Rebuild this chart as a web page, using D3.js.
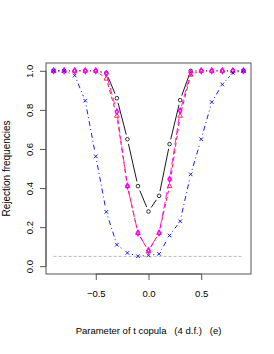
<!DOCTYPE html>
<html>
<head>
<meta charset="utf-8">
<script src="https://cdn.jsdelivr.net/npm/d3@7"></script>
<style>
  body { margin: 0; background: #fff; }
  svg { display: block; font-family: "Liberation Sans", Arial, sans-serif; }
</style>
</head>
<body>
<div id="chart"></div>
<script>
const width = 274;
const height = 354;
const margin = { top: 63, right: 23, bottom: 80, left: 46 };

// parameter values of the t copula
const params = [-0.9, -0.8, -0.7, -0.6, -0.5, -0.4, -0.3, -0.2, -0.1, 0.0,
  0.1, 0.2, 0.3, 0.4, 0.5, 0.6, 0.7, 0.8, 0.9];

const blackVals = [1, 1, 1, 1, 1, 0.99, 0.86, 0.65, 0.41, 0.28,
  0.36, 0.625, 0.85, 1, 1, 1, 1, 1, 1];
const redVals = [1, 1, 1, 1, 1, 0.96, 0.77, 0.41, 0.17, 0.077,
  0.17, 0.41, 0.77, 0.98, 1, 1, 1, 1, 1];
const magentaVals = [1, 1, 1, 1, 1, 0.985, 0.79, 0.41, 0.17, 0.08,
  0.17, 0.445, 0.795, 0.99, 1, 1, 1, 1, 1];
const blueVals = [1, 1, 0.976, 0.847, 0.562, 0.278, 0.11, 0.068, 0.051, 0.056,
  0.063, 0.157, 0.23, 0.47, 0.65, 0.84, 0.93, 0.99, 1];

const level = 0.05;
const xTicks = [-0.5, 0, 0.5];
const yTicks = [0, 0.2, 0.4, 0.6, 0.8, 1.0];

const series = [
  { name: "black", vals: blackVals, color: "#000000", dash: null, shape: "circle" },
  { name: "red", vals: redVals, color: "#ff0000", dash: "4,3", shape: "triangle" },
  { name: "magenta", vals: magentaVals, color: "#ff00ff", dash: "7,3", shape: "diamond" },
  { name: "blue", vals: blueVals, color: "#0000ff", dash: "1,3,5,3", shape: "cross" }
];

const x = d3.scaleLinear()
  .domain([-0.972, 0.972])
  .range([margin.left, width - margin.right]);
const y = d3.scaleLinear()
  .domain([-0.04, 1.04])
  .range([height - margin.bottom, margin.top]);

const svg = d3.select("#chart")
  .append("svg")
  .attr("width", width)
  .attr("height", height);

// reference level
svg.append("line")
  .attr("x1", x(params[0]))
  .attr("x2", x(params[params.length - 1]))
  .attr("y1", y(level))
  .attr("y2", y(level))
  .attr("stroke", "#aaaaaa")
  .attr("stroke-width", 0.8)
  .attr("stroke-dasharray", "3,2");

const gap = 4.8;

// R type="b": segments with gaps around the points
const drawSeries = (s) => {
  const pts = params.map((p, i) => [x(p), y(s.vals[i])]);
  const g = svg.append("g").attr("class", `series-${s.name}`);
  for (let i = 0; i < pts.length - 1; i++) {
    const [x1, y1] = pts[i];
    const [x2, y2] = pts[i + 1];
    const len = Math.hypot(x2 - x1, y2 - y1);
    if (len <= 2 * gap) continue;
    const ux = (x2 - x1) / len;
    const uy = (y2 - y1) / len;
    g.append("line")
      .attr("x1", x1 + ux * gap)
      .attr("y1", y1 + uy * gap)
      .attr("x2", x2 - ux * gap)
      .attr("y2", y2 - uy * gap)
      .attr("stroke", s.color)
      .attr("stroke-width", 0.9)
      .attr("stroke-dasharray", s.dash);
  }

  const m = g.selectAll("g.pt")
    .data(pts)
    .join("g")
    .attr("class", "pt")
    .attr("transform", (d) => `translate(${d[0]},${d[1]})`);

  if (s.shape === "circle") {
    m.append("circle").attr("r", 1.8)
      .attr("fill", "none").attr("stroke", s.color).attr("stroke-width", 0.8);
  } else if (s.shape === "triangle") {
    m.append("path").attr("d", "M0,-2.6L2.3,1.5L-2.3,1.5Z")
      .attr("fill", "none").attr("stroke", s.color).attr("stroke-width", 0.8);
  } else if (s.shape === "diamond") {
    m.append("path").attr("d", "M0,-2.6L1.6,0L0,2.6L-1.6,0Z")
      .attr("fill", "none").attr("stroke", s.color).attr("stroke-width", 1.5);
  } else {
    m.append("path").attr("d", "M-1.8,-1.8L1.8,1.8M-1.8,1.8L1.8,-1.8")
      .attr("stroke", s.color).attr("stroke-width", 0.9);
  }
};

series.forEach(drawSeries);

// box
svg.append("rect")
  .attr("x", margin.left)
  .attr("y", margin.top)
  .attr("width", width - margin.left - margin.right)
  .attr("height", height - margin.top - margin.bottom)
  .attr("fill", "none")
  .attr("stroke", "#555555")
  .attr("stroke-width", 1);

// axes
const xAxis = svg.append("g")
  .attr("transform", `translate(0,${height - margin.bottom})`)
  .call(d3.axisBottom(x).tickValues(xTicks).tickSize(6).tickPadding(10)
    .tickFormat((d) => d === 0 ? "0.0" : d3.format(".1f")(d).replace("-", "\u2212")));

const yAxis = svg.append("g")
  .attr("transform", `translate(${margin.left},0)`)
  .call(d3.axisLeft(y).tickValues(yTicks).tickSize(6).tickFormat(d3.format(".1f")));

[xAxis, yAxis].forEach((a) => {
  a.select(".domain").attr("stroke", "#555555");
  a.selectAll(".tick line").attr("stroke", "#555555");
  a.selectAll("text").attr("fill", "#000").attr("font-size", 9.5)
    .attr("font-family", "Liberation Sans, Arial, sans-serif");
});

xAxis.select(".domain")
  .attr("d", `M${x(-0.5)},0V0H${x(0.5)}V0`);
yAxis.select(".domain")
  .attr("d", `M0,${y(0)}H0V${y(1)}H0`);

yAxis.selectAll(".tick text")
  .attr("x", null).attr("dy", null)
  .attr("text-anchor", "middle")
  .attr("transform", "translate(-13,0) rotate(-90)");

// titles
svg.append("text")
  .attr("x", (margin.left + width - margin.right) / 2)
  .attr("y", 334)
  .attr("text-anchor", "middle")
  .attr("font-size", 9.5)
  .attr("xml:space", "preserve")
  .text("Parameter of t copula   (4 d.f.)   (e)");

svg.append("text")
  .attr("transform", `translate(10,${(margin.top + height - margin.bottom) / 2}) rotate(-90)`)
  .attr("text-anchor", "middle")
  .attr("font-size", 10)
  .text("Rejection frequencies");
</script>
</body>
</html>
